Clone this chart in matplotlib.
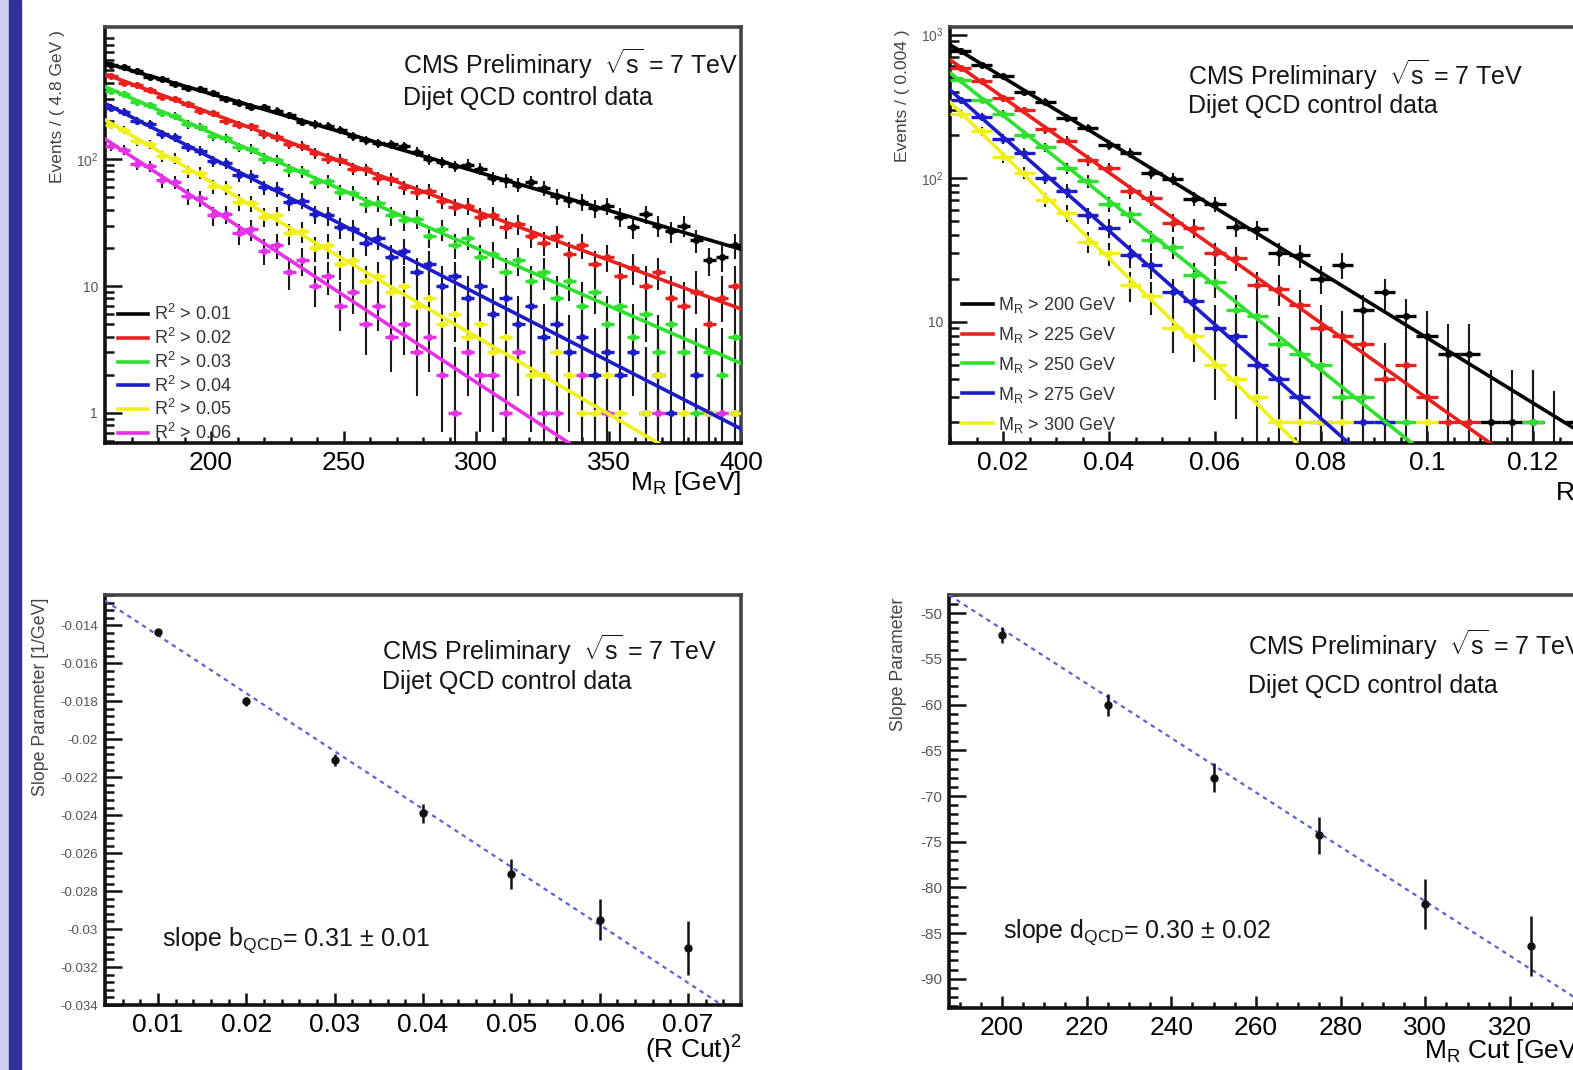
import numpy as np
import matplotlib
matplotlib.use("Agg")
import matplotlib.pyplot as plt
from matplotlib.patches import Rectangle
from matplotlib.ticker import LogLocator, MultipleLocator, NullFormatter

plt.rcParams['font.family'] = ['Liberation Sans', 'DejaVu Sans']
plt.rcParams['mathtext.fontset'] = 'custom'
plt.rcParams['mathtext.rm'] = 'Liberation Sans'
plt.rcParams['mathtext.it'] = 'Liberation Sans:italic'
plt.rcParams['mathtext.bf'] = 'Liberation Sans:bold'
plt.rcParams['axes.unicode_minus'] = False

# ---------------- data ----------------
# top left: M_R spectra, 4.8 GeV bins from 160 to 400
mr_lo, mr_hi, mr_bin = 160.0, 400.0, 4.8
r2_cuts = ['0.01', '0.02', '0.03', '0.04', '0.05', '0.06']
tl_black = [548, 531, 497, 441, 431, 389, 361, 357, 330, 296,
            279, 259, 256, 240, 221, 196, 188, 184, 171, 152,
            141, 133, 131, 126, 114, 100, 95, 88, 90, 84,
            71, 68, 63, 66, 59, 51, 48, 46, 41, 43,
            35, 29, 37, 30, 27, 30, 23, 16, 17, 21]
tl_red = [452, 398, 385, 351, 309, 300, 271, 240, 231, 201,
          186, 181, 158, 150, 131, 127, 111, 101, 99, 84,
          83, 71, 70, 60, 55, 56, 47, 42, 43, 35,
          36, 29, 31, 25, 22, 25, 18, 21, 15, 17,
          12, 14, 10, 13, 8, 7, 9, 5, 8, 10]
tl_green = [347, 325, 281, 268, 230, 219, 188, 179, 152, 147,
            124, 120, 101, 98, 82, 80, 66, 67, 55, 54,
            44, 45, 36, 33, 34, 25, 28, 21, 24, 17,
            18, 13, 16, 11, 13, 8, 11, 7, 9, 5,
            7, 4, 6, 3, 5, 3, 1, 3, 2, 4]
tl_blue = [254, 236, 199, 188, 158, 149, 124, 117, 97, 93,
           75, 74, 60, 58, 46, 47, 37, 36, 29, 28,
           22, 24, 17, 19, 13, 15, 10, 12, 8, 10,
           6, 8, 5, 7, 4, 5, 3, 4, 2, 3,
           2, 3, 1, 2, 1, 0, 2, 1, 0, 1]
tl_yellow = [186, 171, 139, 131, 106, 101, 80, 78, 61, 60,
             46, 45, 35, 36, 26, 27, 20, 21, 15, 16,
             11, 12, 9, 10, 7, 8, 5, 6, 4, 5,
             3, 4, 3, 2, 2, 3, 2, 1, 1, 2,
             1, 0, 1, 2, 0, 1, 0, 1, 0, 1]
tl_magenta = [128, 119, 92, 88, 68, 66, 51, 49, 36, 37,
              26, 28, 19, 21, 13, 16, 10, 12, 7, 9,
              5, 7, 4, 5, 3, 4, 2, 1, 3, 2,
              2, 1, 3, 0, 1, 1, 0, 2, 0, 1,
              0, 0, 0, 1, 0, 0, 0, 0, 1, 0]
# fitted exponential: value at M_R = 160 and at M_R = 400
tl_fit_start = [575, 468, 372, 275, 204, 144]
tl_fit_end = [19.5, 6.6, 2.46, 0.75, 0.241, 0.075]

# top right: R^2 spectra, 0.004 bins from 0.01 to 0.13
r2_lo, r2_hi, r2_bin = 0.01, 0.13, 0.004
mr_cuts = ['200', '225', '250', '275', '300']
tr_black = [773, 611, 517, 398, 341, 262, 225, 170, 150, 109,
            99, 72, 66, 46, 44, 30, 29, 20, 25, 12,
            16, 11, 8, 6, 6, 2, 2, 2, 1, 2]
tr_red = [587, 478, 359, 297, 219, 183, 134, 117, 81, 73,
          49, 45, 30, 28, 18, 17, 13, 9, 8, 7,
          4, 5, 3, 2, 2, 0, 1, 0, 0, 0]
tr_green = [481, 351, 280, 201, 164, 117, 95, 66, 56, 37,
            33, 21, 19, 12, 11, 7, 6, 5, 3, 3,
            2, 2, 0, 1, 0, 0, 0, 2, 0, 0]
tr_blue = [349, 268, 188, 149, 101, 82, 55, 45, 29, 25,
           16, 14, 9, 8, 5, 4, 3, 2, 1, 2,
           2, 0, 0, 0, 0, 0, 0, 0, 0, 0]
tr_yellow = [281, 212, 140, 109, 71, 57, 36, 30, 18, 15,
             9, 8, 5, 4, 3, 2, 2, 2, 2, 0,
             0, 0, 2, 0, 0, 0, 0, 0, 0, 0]
tr_fit_start = [851, 668, 542, 412, 339]
tr_fit_end = [1.61, 0.48, 0.152, 0.049, 0.0149]

# bottom left: slope vs (R cut)^2
bl_x = [0.01, 0.02, 0.03, 0.04, 0.05, 0.06, 0.07]
bl_y = [-0.01437, -0.0180, -0.0211, -0.0239, -0.0271, -0.0295, -0.0310]
bl_err = [0.0001, 0.00025, 0.0003, 0.0005, 0.0008, 0.0011, 0.0014]
bl_fit_x = [0.004, 0.076]
bl_fit_y = [-0.0127, -0.03466]

# bottom right: slope vs M_R cut
br_x = [200, 225, 250, 275, 300, 325]
br_y = [-52.4, -60.0, -68.0, -74.3, -81.8, -86.4]
br_err = [0.9, 1.2, 1.6, 2.0, 2.7, 3.3]
br_fit_x = [187.5, 337.5]
br_fit_y = [-48.0, -92.7]

colors = ['#000000', '#e8211f', '#2fe02f', '#1c1cc8', '#f0f01c', '#e632e6']

# Poisson 68% intervals for small counts
pois_lo = {1: 0.173, 2: 0.708, 3: 1.367, 4: 2.086, 5: 2.840,
           6: 3.620, 7: 4.419, 8: 5.232, 9: 6.057, 10: 6.891}
pois_hi = {1: 3.300, 2: 4.638, 3: 5.918, 4: 7.163, 5: 8.382,
           6: 9.584, 7: 10.77, 8: 11.95, 9: 13.11, 10: 14.27}


def draw_counts(ax, centers, half, counts, color):
    n = np.asarray(counts, dtype=float)
    m = n > 0
    x, y = centers[m], n[m]
    lo = np.array([pois_lo.get(int(v), v - np.sqrt(v)) for v in y])
    hi = np.array([pois_hi.get(int(v), v + np.sqrt(v)) for v in y])
    ax.vlines(x, lo, hi, color='#1a1a1a', lw=1.5, zorder=2)
    ax.hlines(y, x - half, x + half, color=color, lw=2.4, zorder=3)
    ax.plot(x, y, 'o', ms=4, color=color, mec=color, zorder=4)


def style(ax, ylab_size):
    for side, s in ax.spines.items():
        s.set_linewidth(2.6)
        s.set_color('#111' if side in ('left', 'bottom') else '#444')
    ax.tick_params(which='both', direction='in', top=False, right=False,
                   width=1.8, color='#111')
    ax.tick_params(axis='y', which='major', length=12.5, labelsize=ylab_size,
                   labelcolor='#555', pad=5)
    ax.tick_params(axis='y', which='minor', length=6.5)
    ax.tick_params(axis='x', which='major', length=9, labelsize=19, pad=6)
    ax.tick_params(axis='x', which='minor', length=4.5)


def cms_text(ax, x, y1, y2):
    ax.text(x, y1, 'CMS Preliminary  $\\sqrt{\\mathrm{s}}$ = 7 TeV',
            transform=ax.transAxes, fontsize=18, va='center', color='#151515')
    ax.text(x, y2, 'Dijet QCD control data', transform=ax.transAxes,
            fontsize=18, va='center', color='#151515')


W, H = 1573, 1070
fig = plt.figure(figsize=(W / 100, H / 100), dpi=100)
fig.add_artist(Rectangle((0, 0), 9 / W, 1, transform=fig.transFigure,
                         color='#cfcff4', zorder=0))
fig.add_artist(Rectangle((9 / W, 0), 12 / W, 1, transform=fig.transFigure,
                         color='#31319a', zorder=0))

# ---------------- top left ----------------
ax = fig.add_axes([105 / W, 1 - 443 / H, 636 / W, 416 / H])
centers = np.arange(mr_lo + mr_bin / 2, mr_hi, mr_bin)
handles = []
for counts, c0, c1, col, cut in zip(
        [tl_black, tl_red, tl_green, tl_blue, tl_yellow, tl_magenta],
        tl_fit_start, tl_fit_end, colors, r2_cuts):
    draw_counts(ax, centers, mr_bin / 2, counts, col)
    h, = ax.plot([mr_lo, mr_hi], [c0, c1], color=col, lw=2.6, zorder=5,
                 label='R$^2$ > ' + cut)
    handles.append(h)
ax.set_yscale('log')
ax.set_xlim(mr_lo, mr_hi)
ax.set_ylim(0.58, 1100)
ax.xaxis.set_major_locator(MultipleLocator(50))
ax.xaxis.set_minor_locator(MultipleLocator(10))
ax.yaxis.set_minor_locator(LogLocator(base=10, subs=np.arange(2, 10)))
ax.yaxis.set_minor_formatter(NullFormatter())
ax.set_yticks([1, 10, 100])
ax.set_yticklabels(['1', '10', '$10^{2}$'])
style(ax, 10)
ax.text(1.0, -0.097, 'M$_\\mathrm{R}$ [GeV]', transform=ax.transAxes,
        ha='right', va='center', fontsize=19)
ax.text(-0.075, 0.993, 'Events / ( 4.8 GeV )', transform=ax.transAxes,
        rotation=90, ha='center', va='top', fontsize=12.5, color='#444')
cms_text(ax, 0.4686, 0.911, 0.829)
ax.legend(handles=handles, loc='lower left', bbox_to_anchor=(0.02, 0.0),
          frameon=False, fontsize=13, labelcolor='#333', borderpad=0,
          borderaxespad=0, handlelength=1.7, handletextpad=0.3,
          labelspacing=0.2)

# ---------------- top right ----------------
ax = fig.add_axes([950 / W, 1 - 443 / H, 636 / W, 416 / H])
centers = np.arange(r2_lo + r2_bin / 2, r2_hi - 1e-9, r2_bin)
handles = []
for counts, c0, c1, col, cut in zip(
        [tr_black, tr_red, tr_green, tr_blue, tr_yellow],
        tr_fit_start, tr_fit_end, colors, mr_cuts):
    draw_counts(ax, centers, r2_bin / 2, counts, col)
    h, = ax.plot([r2_lo, r2_hi], [c0, c1], color=col, lw=2.6, zorder=5,
                 label='M$_\\mathrm{R}$ > ' + cut + ' GeV')
    handles.append(h)
ax.set_yscale('log')
ax.set_xlim(r2_lo, r2_hi)
ax.set_ylim(1.43, 1130)
ax.xaxis.set_major_locator(MultipleLocator(0.02))
ax.xaxis.set_minor_locator(MultipleLocator(0.005))
ax.xaxis.set_major_formatter(plt.FuncFormatter(lambda v, p: ('%g' % round(v, 3))))
ax.yaxis.set_minor_locator(LogLocator(base=10, subs=np.arange(2, 10)))
ax.yaxis.set_minor_formatter(NullFormatter())
ax.set_yticks([10, 100, 1000])
ax.set_yticklabels(['10', '$10^{2}$', '$10^{3}$'])
style(ax, 10)
ax.text(1.0, -0.12, 'R$^2$', transform=ax.transAxes,
        ha='right', va='center', fontsize=19)
ax.text(-0.074, 0.993, 'Events / ( 0.004 )', transform=ax.transAxes,
        rotation=90, ha='center', va='top', fontsize=12.5, color='#444')
cms_text(ax, 0.374, 0.885, 0.810)
ax.legend(handles=handles, loc='lower left', bbox_to_anchor=(0.019, 0.02),
          frameon=False, fontsize=13, labelcolor='#333', borderpad=0,
          borderaxespad=0, handlelength=1.7, handletextpad=0.3,
          labelspacing=0.55)

# ---------------- bottom left ----------------
ax = fig.add_axes([105 / W, 1 - 1005 / H, 636 / W, 410 / H])
ax.errorbar(bl_x, bl_y, yerr=bl_err, fmt='o', ms=5, color='#111',
            ecolor='#111', elinewidth=1.8, capsize=0, zorder=4)
ax.plot(bl_fit_x, bl_fit_y, color='#6060d8', lw=1.6, ls=(0, (2, 2)), zorder=3)
ax.set_xlim(0.004, 0.076)
ax.set_ylim(-0.034, -0.0124)
ax.xaxis.set_major_locator(MultipleLocator(0.01))
ax.xaxis.set_minor_locator(MultipleLocator(0.002))
ax.yaxis.set_major_locator(MultipleLocator(0.002))
ax.yaxis.set_minor_locator(MultipleLocator(0.0004))
ax.xaxis.set_major_formatter(plt.FuncFormatter(lambda v, p: '%g' % round(v, 4)))
ax.yaxis.set_major_formatter(plt.FuncFormatter(lambda v, p: '%g' % round(v, 4)))
style(ax, 9.5)
ax.text(1.0, -0.11, '(R Cut)$^2$', transform=ax.transAxes,
        ha='right', va='center', fontsize=19)
ax.text(-0.102, 0.993, 'Slope Parameter [1/GeV]', transform=ax.transAxes,
        rotation=90, ha='center', va='top', fontsize=12.8, color='#444')
cms_text(ax, 0.4355, 0.866, 0.788)
ax.text(0.0896, 0.1585, 'slope b$_{\\mathrm{QCD}}$= 0.31 ± 0.01',
        transform=ax.transAxes, fontsize=18, va='center', color='#151515')

# ---------------- bottom right ----------------
ax = fig.add_axes([949 / W, 1 - 1008 / H, 635 / W, 413 / H])
ax.errorbar(br_x, br_y, yerr=br_err, fmt='o', ms=5, color='#111',
            ecolor='#111', elinewidth=1.8, capsize=0, zorder=4)
ax.plot(br_fit_x, br_fit_y, color='#6060d8', lw=1.6, ls=(0, (2, 2)), zorder=3)
ax.set_xlim(187.5, 337.5)
ax.set_ylim(-93.2, -48.0)
ax.xaxis.set_major_locator(MultipleLocator(20))
ax.xaxis.set_minor_locator(MultipleLocator(5))
ax.yaxis.set_major_locator(MultipleLocator(5))
ax.yaxis.set_minor_locator(MultipleLocator(1))
style(ax, 11)
ax.text(1.0, -0.103, 'M$_\\mathrm{R}$ Cut [GeV]', transform=ax.transAxes,
        ha='right', va='center', fontsize=19)
ax.text(-0.079, 0.993, 'Slope Parameter', transform=ax.transAxes,
        rotation=90, ha='center', va='top', fontsize=12.8, color='#444')
cms_text(ax, 0.471, 0.879, 0.780)
ax.text(0.085, 0.184, 'slope d$_{\\mathrm{QCD}}$= 0.30 ± 0.02',
        transform=ax.transAxes, fontsize=18, va='center', color='#151515')

fig.savefig('out.png', dpi=100)
plt.close(fig)
